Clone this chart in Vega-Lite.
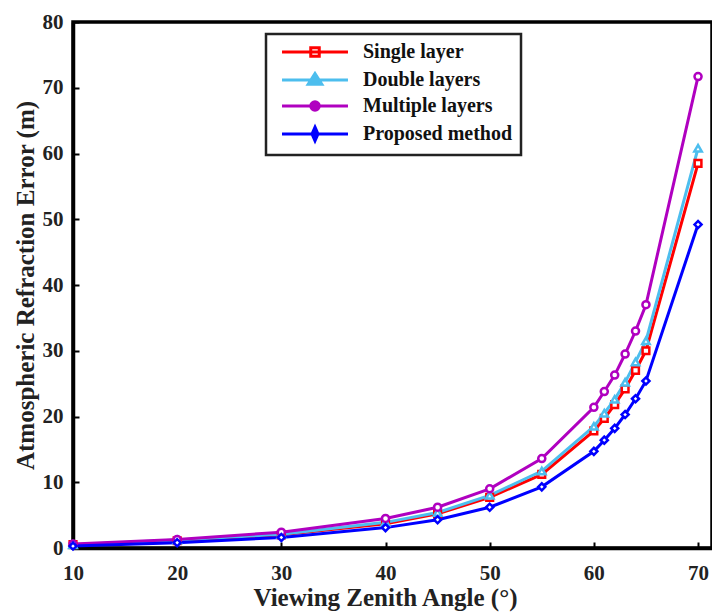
{
  "$schema": "https://vega.github.io/schema/vega-lite/v6.json",
  "autosize": {"type": "none"},
  "width": 639,
  "height": 526,
  "padding": {"left": 73, "top": 22, "right": 0, "bottom": 64},
  "background": "white",
  "config": {
    "view": {"stroke": "black", "strokeWidth": 3.5},
    "font": "Liberation Serif",
    "axis": {
      "labelFont": "Liberation Serif", "labelFontWeight": "bold", "labelFontSize": 21, "labelColor": "#222", "labelFlush": false,
      "titleFont": "Liberation Serif", "titleFontWeight": "bold", "titleFontSize": 25, "titleColor": "#222",
      "domainColor": "black", "domainWidth": 3.5, "tickColor": "black", "tickWidth": 2, "tickSize": -6,
      "grid": false
    }
  },
  "data": {
    "values": [
      {"angle": 10, "series": "Single layer", "error": 0.5},
      {"angle": 20, "series": "Single layer", "error": 1.1},
      {"angle": 30, "series": "Single layer", "error": 2.0},
      {"angle": 40, "series": "Single layer", "error": 3.7},
      {"angle": 45, "series": "Single layer", "error": 5.2},
      {"angle": 50, "series": "Single layer", "error": 7.7},
      {"angle": 55, "series": "Single layer", "error": 11.2},
      {"angle": 60, "series": "Single layer", "error": 17.8},
      {"angle": 61, "series": "Single layer", "error": 19.7},
      {"angle": 62, "series": "Single layer", "error": 21.8},
      {"angle": 63, "series": "Single layer", "error": 24.2},
      {"angle": 64, "series": "Single layer", "error": 27.0},
      {"angle": 65, "series": "Single layer", "error": 30.0},
      {"angle": 70, "series": "Single layer", "error": 58.5},
      {"angle": 10, "series": "Double layers", "error": 0.5},
      {"angle": 20, "series": "Double layers", "error": 1.2},
      {"angle": 30, "series": "Double layers", "error": 2.1},
      {"angle": 40, "series": "Double layers", "error": 3.9},
      {"angle": 45, "series": "Double layers", "error": 5.4},
      {"angle": 50, "series": "Double layers", "error": 8.0},
      {"angle": 55, "series": "Double layers", "error": 11.7},
      {"angle": 60, "series": "Double layers", "error": 18.5},
      {"angle": 61, "series": "Double layers", "error": 20.5},
      {"angle": 62, "series": "Double layers", "error": 22.6},
      {"angle": 63, "series": "Double layers", "error": 25.2},
      {"angle": 64, "series": "Double layers", "error": 28.3},
      {"angle": 65, "series": "Double layers", "error": 31.5},
      {"angle": 70, "series": "Double layers", "error": 60.8},
      {"angle": 10, "series": "Multiple layers", "error": 0.6},
      {"angle": 20, "series": "Multiple layers", "error": 1.3},
      {"angle": 30, "series": "Multiple layers", "error": 2.4},
      {"angle": 40, "series": "Multiple layers", "error": 4.5},
      {"angle": 45, "series": "Multiple layers", "error": 6.2},
      {"angle": 50, "series": "Multiple layers", "error": 9.0},
      {"angle": 55, "series": "Multiple layers", "error": 13.6},
      {"angle": 60, "series": "Multiple layers", "error": 21.4},
      {"angle": 61, "series": "Multiple layers", "error": 23.8},
      {"angle": 62, "series": "Multiple layers", "error": 26.3},
      {"angle": 63, "series": "Multiple layers", "error": 29.5},
      {"angle": 64, "series": "Multiple layers", "error": 33.0},
      {"angle": 65, "series": "Multiple layers", "error": 37.0},
      {"angle": 70, "series": "Multiple layers", "error": 71.7},
      {"angle": 10, "series": "Proposed method", "error": 0.3},
      {"angle": 20, "series": "Proposed method", "error": 0.8},
      {"angle": 30, "series": "Proposed method", "error": 1.6},
      {"angle": 40, "series": "Proposed method", "error": 3.1},
      {"angle": 45, "series": "Proposed method", "error": 4.3},
      {"angle": 50, "series": "Proposed method", "error": 6.2},
      {"angle": 55, "series": "Proposed method", "error": 9.3},
      {"angle": 60, "series": "Proposed method", "error": 14.7},
      {"angle": 61, "series": "Proposed method", "error": 16.4},
      {"angle": 62, "series": "Proposed method", "error": 18.2},
      {"angle": 63, "series": "Proposed method", "error": 20.3},
      {"angle": 64, "series": "Proposed method", "error": 22.7},
      {"angle": 65, "series": "Proposed method", "error": 25.4},
      {"angle": 70, "series": "Proposed method", "error": 49.2}
    ]
  },
  "encoding": {
    "x": {
      "field": "angle", "type": "quantitative",
      "scale": {"domain": [10, 71.34], "nice": false, "zero": false},
      "axis": {"values": [10, 20, 30, 40, 50, 60, 70], "title": "Viewing Zenith Angle (°)", "labelPadding": 20, "titlePadding": 2, "titleX": 312, "titleAlign": "center", "titleAnchor": "start"}
    },
    "y": {
      "field": "error", "type": "quantitative",
      "scale": {"domain": [0, 80], "nice": false},
      "axis": {"values": [0, 10, 20, 30, 40, 50, 60, 70, 80], "title": "Atmospheric Refraction Error (m)", "labelPadding": 16, "titlePadding": 4}
    }
  },
  "layer": [
    {
      "mark": {"type": "line", "strokeWidth": 3},
      "encoding": {
        "color": {
          "field": "series", "type": "nominal",
          "scale": {"domain": ["Single layer", "Double layers", "Multiple layers", "Proposed method"], "range": ["#ff0000", "#4dbeee", "#b000c0", "#0000ff"]},
          "legend": {
            "title": null,
            "orient": "none",
            "legendX": 193,
            "legendY": 12,
            "padding": 8,
            "strokeColor": "#222",
            "fillColor": "white",
            "labelFont": "Liberation Serif",
            "labelFontWeight": "bold",
            "labelFontSize": 20,
            "labelColor": "#111",
            "labelExpr": "datum.label + '\u00a0\u00a0'",
            "labelOffset": 38,
            "symbolSize": 289,
            "symbolStrokeWidth": 3,
            "symbolOffset": 31,
            "rowPadding": 4,
            "encode": {
              "legend": {"update": {"strokeWidth": {"value": 2.5}}},
              "symbols": {
                "update": {
                  "shape": {"signal": "datum.value === 'Single layer' ? 'M-3.88,0L3.88,0M-0.5,-0.5L0.5,-0.5L0.5,0.5L-0.5,0.5Z' : datum.value === 'Double layers' ? 'M-3.88,0L3.88,0M0,-0.75L0.8,0.5L-0.8,0.5Z' : datum.value === 'Multiple layers' ? 'M-3.88,0L3.88,0M0.5,0A0.5,0.5,0,1,1,-0.5,0A0.5,0.5,0,1,1,0.5,0Z' : 'M-3.88,0L3.88,0M0,-0.8L0.35,0L0,0.8L-0.35,0Z'"},
                  "fill": {"signal": "datum.value === 'Single layer' ? 'white' : scale('color', datum.value)"},
                  "stroke": {"scale": "color", "field": "value"},
                  "strokeWidth": {"value": 3},
                  "size": {"value": 289}
                }
              }
            }
          }
        }
      }
    },
    {
      "transform": [{"filter": "datum.series === 'Single layer'"}],
      "mark": {"type": "point", "shape": "square", "fill": "white", "filled": false, "stroke": "#ff0000", "strokeWidth": 2.5, "size": 45, "opacity": 1}
    },
    {
      "transform": [{"filter": "datum.series === 'Double layers'"}],
      "mark": {"type": "point", "shape": "triangle-up", "fill": "white", "filled": false, "stroke": "#4dbeee", "strokeWidth": 2.5, "size": 55, "opacity": 1}
    },
    {
      "transform": [{"filter": "datum.series === 'Multiple layers'"}],
      "mark": {"type": "point", "shape": "circle", "fill": "white", "filled": false, "stroke": "#b000c0", "strokeWidth": 2.5, "size": 50, "opacity": 1}
    },
    {
      "transform": [{"filter": "datum.series === 'Proposed method'"}],
      "mark": {"type": "point", "shape": "diamond", "fill": "white", "filled": false, "stroke": "#0000ff", "strokeWidth": 2.5, "size": 50, "opacity": 1}
    }
  ]
}
